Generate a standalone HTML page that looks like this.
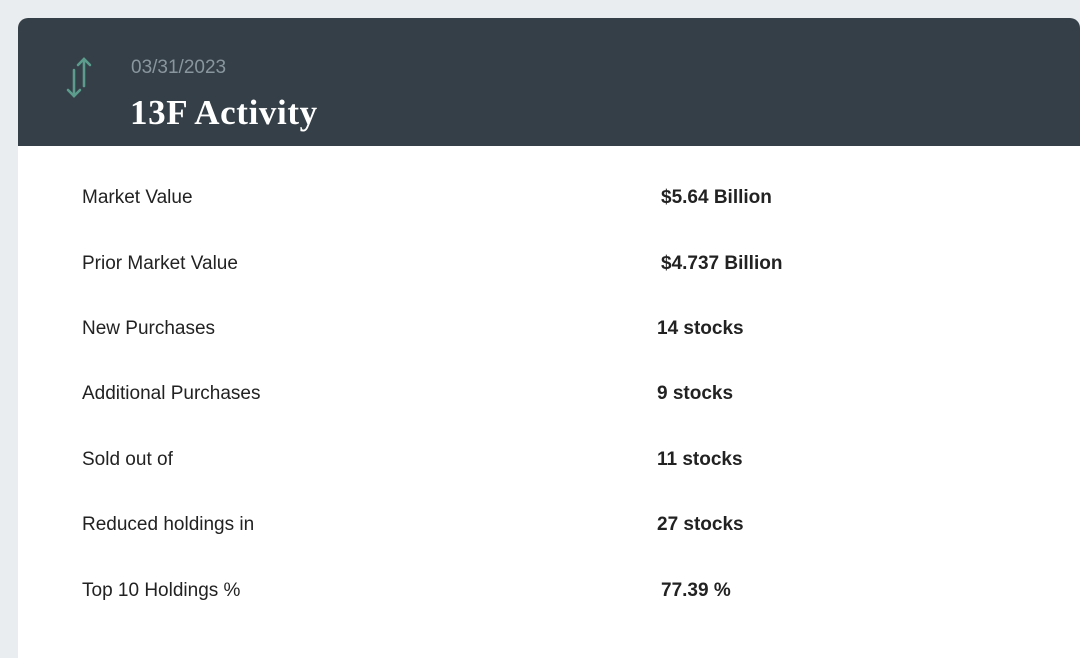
<!DOCTYPE html>
<html><head><style>
body{margin:0;width:1080px;height:631px;background:#e9edf0;overflow:hidden;font-family:"Liberation Sans",sans-serif;}
.card{position:absolute;left:18px;top:18px;width:1062px;height:640px;background:#fff;border-radius:10px 10px 0 0;overflow:hidden;}
.hdr{height:128px;background:#343f47;position:relative;}
.date{position:absolute;left:113px;top:39px;color:#8a969e;font-size:19px;}
.title{position:absolute;left:112px;top:75px;color:#fff;font-size:35px;letter-spacing:0.6px;font-weight:bold;font-family:"Liberation Serif",serif;}
.row{position:absolute;left:64px;font-size:19px;color:#222;}
.val{position:absolute;font-size:19px;color:#222;font-weight:bold;}
</style></head><body>
<div class="card">
<div class="hdr">
<svg style="position:absolute;left:46px;top:38px" width="30" height="44" viewBox="0 0 30 44">
<g stroke="#5c9c8c" stroke-width="2.6" fill="none" stroke-linecap="round">
<line x1="20" y1="3" x2="20" y2="30"/><polyline points="14,9 20,3 26,9"/>
<line x1="10" y1="14" x2="10" y2="40"/><polyline points="4,34 10,40 16,34"/>
</g></svg>
<div class="date">03/31/2023</div>
<div class="title">13F Activity</div>
</div>
</div>
<div class="row" style="top:187px;left:82px">Market Value</div><div class="val" style="top:187px;left:661px">$5.64 Billion</div>
<div class="row" style="top:253px;left:82px">Prior Market Value</div><div class="val" style="top:253px;left:661px">$4.737 Billion</div>
<div class="row" style="top:318px;left:82px">New Purchases</div><div class="val" style="top:318px;left:657px">14 stocks</div>
<div class="row" style="top:383px;left:82px">Additional Purchases</div><div class="val" style="top:383px;left:657px">9 stocks</div>
<div class="row" style="top:449px;left:82px">Sold out of</div><div class="val" style="top:449px;left:657px">11 stocks</div>
<div class="row" style="top:514px;left:82px">Reduced holdings in</div><div class="val" style="top:514px;left:657px">27 stocks</div>
<div class="row" style="top:580px;left:82px">Top 10 Holdings %</div><div class="val" style="top:580px;left:661px">77.39 %</div>
</body></html>
